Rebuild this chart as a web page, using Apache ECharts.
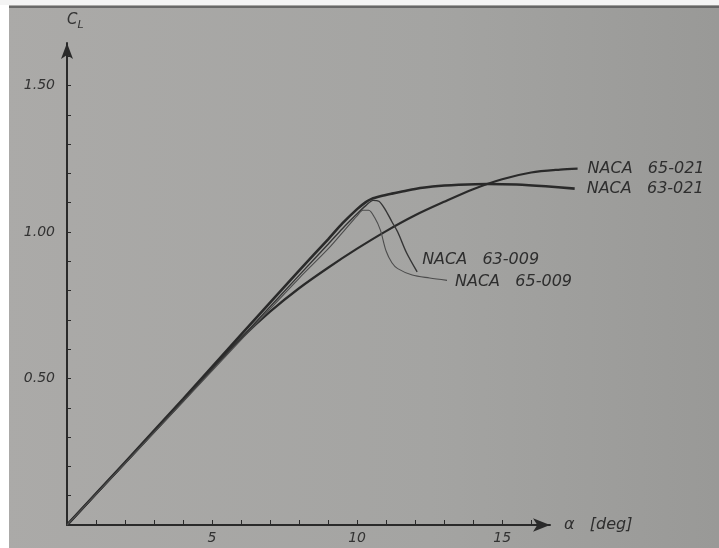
<!DOCTYPE html>
<html>
<head>
<meta charset="utf-8">
<script src="https://cdn.jsdelivr.net/npm/echarts@6/dist/echarts.min.js"></script>
<style>
	html, body { margin: 0; padding: 0; }
	#main { width: 719px; height: 548px; }
</style>
</head>
<body>
<div id="main"></div>
<script>
	// 读图得到的数据 (alpha 单位 deg, CL)
	var alpha63_021 = [0, 2, 4, 6, 8, 9, 9.5, 10, 10.3, 10.5, 10.8, 11.2, 11.6, 12, 12.6, 13.5, 14.5, 15.5, 16.5, 17.5];
	var cl63_021    = [0, 0.214, 0.43, 0.65, 0.868, 0.975, 1.03, 1.078, 1.102, 1.113, 1.122, 1.131, 1.139, 1.147, 1.155, 1.161, 1.164, 1.162, 1.156, 1.148];

	var alpha65_021 = [0, 2, 4, 5, 6, 7, 8, 9, 10, 11, 12, 13, 14, 15, 16, 17, 17.6];
	var cl65_021    = [0, 0.212, 0.424, 0.535, 0.637, 0.728, 0.808, 0.878, 0.943, 1.003, 1.057, 1.103, 1.146, 1.18, 1.203, 1.213, 1.216];

	var alpha63_009 = [0, 2, 4, 6, 8, 9, 9.5, 10, 10.3, 10.55, 10.75, 10.95, 11.2, 11.4, 11.7, 12.07];
	var cl63_009    = [0, 0.212, 0.424, 0.638, 0.852, 0.958, 1.012, 1.062, 1.09, 1.108, 1.105, 1.08, 1.035, 1.0, 0.93, 0.864];

	var alpha65_009 = [0, 2, 4, 6, 8, 9, 9.6, 10, 10.2, 10.4, 10.6, 10.8, 11.0, 11.2, 11.4, 11.9, 12.5, 13.1];
	var cl65_009    = [0, 0.21, 0.42, 0.632, 0.842, 0.942, 1.01, 1.055, 1.074, 1.074, 1.05, 1.007, 0.935, 0.895, 0.875, 0.853, 0.843, 0.835];

	var xMajorLabels = [5, 10, 15];
	var yMajorLabels = [0.5, 1.0, 1.5];
	var xTicks = [1, 2, 3, 4, 5, 6, 7, 8, 9, 10, 11, 12, 13, 14, 15, 16];
	var yTicks = [0.1, 0.2, 0.3, 0.4, 0.5, 0.6, 0.7, 0.8, 0.9, 1.0, 1.1, 1.2, 1.3, 1.4, 1.5, 1.6];

	function zip(xs, ys) {
		return xs.map(function (x, i) { return [x, ys[i]]; });
	}

	var ink = '#2a2a2a';
	var labelFont = {
		fontFamily: 'DejaVu Sans',
		fontStyle: 'italic',
		fontSize: 16,
		color: '#2e2e2e'
	};

	// 数据网格比坐标轴略宽, 曲线延伸到箭头右边
	var pxPerDeg = 29.01;
	var axisMax = 16.65;
	var dataMax = 17.7;

	function curve(name, xs, ys, width, color, label) {
		return {
			name: name,
			type: 'line',
			xAxisIndex: 0,
			yAxisIndex: 0,
			data: zip(xs, ys),
			smooth: 0.3,
			showSymbol: false,
			clip: false,
			lineStyle: { color: color, width: width },
			endLabel: Object.assign({
				show: true,
				formatter: name.replace(' ', '   ')
			}, labelFont, label)
		};
	}

	var option = {
		animation: false,
		backgroundColor: {
			type: 'linear', x: 0, y: 0, x2: 1, y2: 0,
			colorStops: [
				{ offset: 0, color: '#abaaa8' },
				{ offset: 0.6, color: '#a4a4a2' },
				{ offset: 1, color: '#999997' }
			]
		},
		grid: [
			{ left: 67, right: 719 - 67 - dataMax * pxPerDeg, top: 43, bottom: 23 },
			{ left: 67, right: 719 - 67 - axisMax * pxPerDeg, top: 43, bottom: 23 }
		],
		xAxis: [
			{
				type: 'value',
				gridIndex: 0,
				min: 0,
				max: dataMax,
				show: false
			},
			{
				type: 'value',
				gridIndex: 1,
				min: 0,
				max: axisMax,
				name: 'α   [deg]',
				nameLocation: 'end',
				nameGap: 14,
				nameTextStyle: Object.assign({}, labelFont, { verticalAlign: 'middle', padding: [0, 0, 6, 0] }),
				splitLine: { show: false },
				axisLine: {
					lineStyle: { color: ink, width: 2 },
					symbol: ['none', 'arrow'],
					symbolSize: [10, 17]
				},
				axisTick: {
					inside: true,
					length: 5,
					customValues: xTicks,
					lineStyle: { color: ink, width: 1 }
				},
				axisLabel: {
					customValues: xMajorLabels,
					margin: 6,
					fontFamily: 'DejaVu Sans',
					fontStyle: 'italic',
					fontSize: 14,
					color: '#333'
				}
			}
		],
		yAxis: [
			{
				type: 'value',
				gridIndex: 0,
				min: 0,
				max: 1.645,
				name: 'C{s|L}',
				nameLocation: 'end',
				nameGap: 12,
				nameTextStyle: {
					fontFamily: 'DejaVu Sans',
					fontStyle: 'italic',
					fontSize: 15,
					color: '#333',
					align: 'left',
					rich: {
						s: { fontFamily: 'DejaVu Sans', fontStyle: 'italic', fontSize: 11, color: '#333', padding: [10, 0, 0, 0] }
					}
				},
				splitLine: { show: false },
				axisLine: {
					lineStyle: { color: ink, width: 2 },
					symbol: ['none', 'arrow'],
					symbolSize: [9, 16]
				},
				axisTick: {
					inside: true,
					length: 4,
					customValues: yTicks,
					lineStyle: { color: ink, width: 1 }
				},
				axisLabel: {
					customValues: yMajorLabels,
					margin: 12,
					formatter: function (v) { return v.toFixed(2); },
					fontFamily: 'DejaVu Sans',
					fontStyle: 'italic',
					fontSize: 14,
					color: '#333'
				}
			},
			{
				type: 'value',
				gridIndex: 1,
				min: 0,
				max: 1.645,
				show: false
			}
		],
		graphic: [
			{ type: 'rect', left: 0, top: 0, shape: { width: 9, height: 548 }, style: { fill: '#ffffff' }, silent: true },
			{ type: 'rect', left: 0, top: 0, shape: { width: 719, height: 5 }, style: { fill: '#f4f4f4' }, silent: true },
			{ type: 'line', shape: { x1: 9, y1: 7, x2: 719, y2: 7 }, style: { stroke: '#555', lineWidth: 1.5 }, silent: true }
		],
		series: [
			curve('NACA 65-021', alpha65_021, cl65_021, 2.2, ink, { distance: 10 }),
			curve('NACA 63-021', alpha63_021, cl63_021, 2.6, ink, { distance: 12 }),
			curve('NACA 63-009', alpha63_009, cl63_009, 1.4, '#353535', { distance: 5, offset: [0, -12] }),
			curve('NACA 65-009', alpha65_009, cl65_009, 1.1, '#4c4c4c', { distance: 8, offset: [0, 2] })
		]
	};

	var myChart = echarts.init(document.getElementById('main'));
	myChart.setOption(option);
</script>
</body>
</html>
